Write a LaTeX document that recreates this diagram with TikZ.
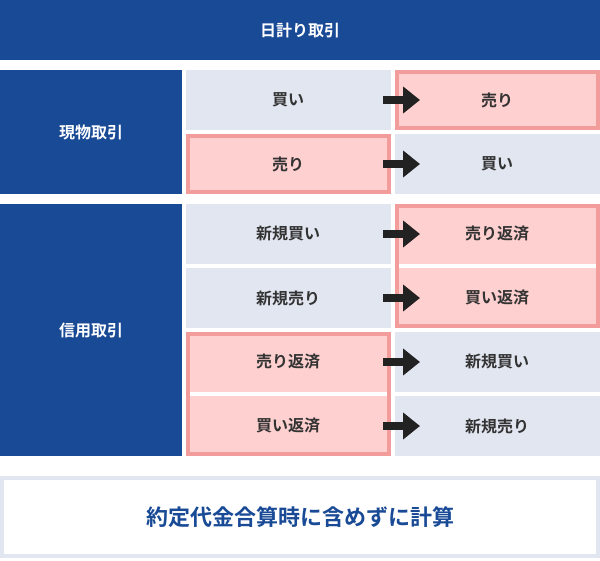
\documentclass[tikz,border=0pt]{standalone}
\usepackage{fontspec}
\setmainfont{Noto Sans CJK JP}[BoldFont={* Bold}]
\usetikzlibrary{arrows.meta}
\definecolor{navy}{HTML}{194A96}
\definecolor{cellb}{HTML}{E1E6F1}
\definecolor{pinkf}{HTML}{FFD0D0}
\definecolor{pinkb}{HTML}{F29C9C}
\definecolor{txt}{HTML}{333333}
\definecolor{arr}{HTML}{222222}
\tikzset{
 cell/.style={font=\fontsize{16}{18}\selectfont\bfseries, text=txt},
 bluecell/.style={fill=cellb},
 pinkbox/.style={fill=pinkf, draw=pinkb, line width=4pt},
 arrowc/.style={-{Triangle[length=17pt,width=26pt]}, line width=8pt, draw=arr}
}
\begin{document}
\begin{tikzpicture}[x=1pt,y=-1pt]
\useasboundingbox (0,0) rectangle (600,560);
\fill[white] (0,0) rectangle (600,560);
% header
\fill[navy] (0,0) rectangle (600,60);
\node[cell,text=white] (hd) at (300,30) {日計り取引};
% left labels
\fill[navy] (0,70) rectangle (182,194);
\node[cell,text=white] (gb) at (91,132) {現物取引};
\fill[navy] (0,204) rectangle (182,456);
\node[cell,text=white] (sy) at (91,330) {信用取引};
% genbutsu
\fill[bluecell] (186,70) rectangle (391,130);
\draw[pinkbox] (397,72) rectangle (598,128);
\draw[pinkbox] (188,136) rectangle (389,192);
\fill[bluecell] (395,134) rectangle (600,194);
\node[cell] (a1) at (288,100) {買い};
\node[cell] (b1) at (497,100) {売り};
\node[cell] (a2) at (288,164) {売り};
\node[cell] (b2) at (497,164) {買い};
% shinyo
\fill[bluecell] (186,204) rectangle (391,264);
\fill[bluecell] (186,268) rectangle (391,328);
\draw[pinkbox] (397,206) rectangle (598,326);
\fill[white] (399,264) rectangle (596,268);
\draw[pinkbox] (188,334) rectangle (389,454);
\fill[white] (190,392) rectangle (387,396);
\fill[bluecell] (395,332) rectangle (600,392);
\fill[bluecell] (395,396) rectangle (600,456);
\node[cell] (a3) at (288,234) {新規買い};
\node[cell] (b3) at (497,234) {売り返済};
\node[cell] (a4) at (288,298) {新規売り};
\node[cell] (b4) at (497,298) {買い返済};
\node[cell] (a5) at (288,362) {売り返済};
\node[cell] (b5) at (497,362) {新規買い};
\node[cell] (a6) at (288,426) {買い返済};
\node[cell] (b6) at (497,426) {新規売り};
% arrows
\foreach \y/\n in {100/1,164/2,234/3,298/4,362/5,426/6}{
 \coordinate (s\n) at (383,\y);
 \coordinate (e\n) at (420,\y);
 \draw[arrowc] (s\n) -- (e\n);
}
% bottom
\draw[fill=white, draw=cellb, line width=4pt] (2,478) rectangle (598,556);
\node[font=\fontsize{22}{26}\selectfont\bfseries, text=navy] (ft) at (300,517) {約定代金合算時に含めずに計算};
\end{tikzpicture}
\end{document}
